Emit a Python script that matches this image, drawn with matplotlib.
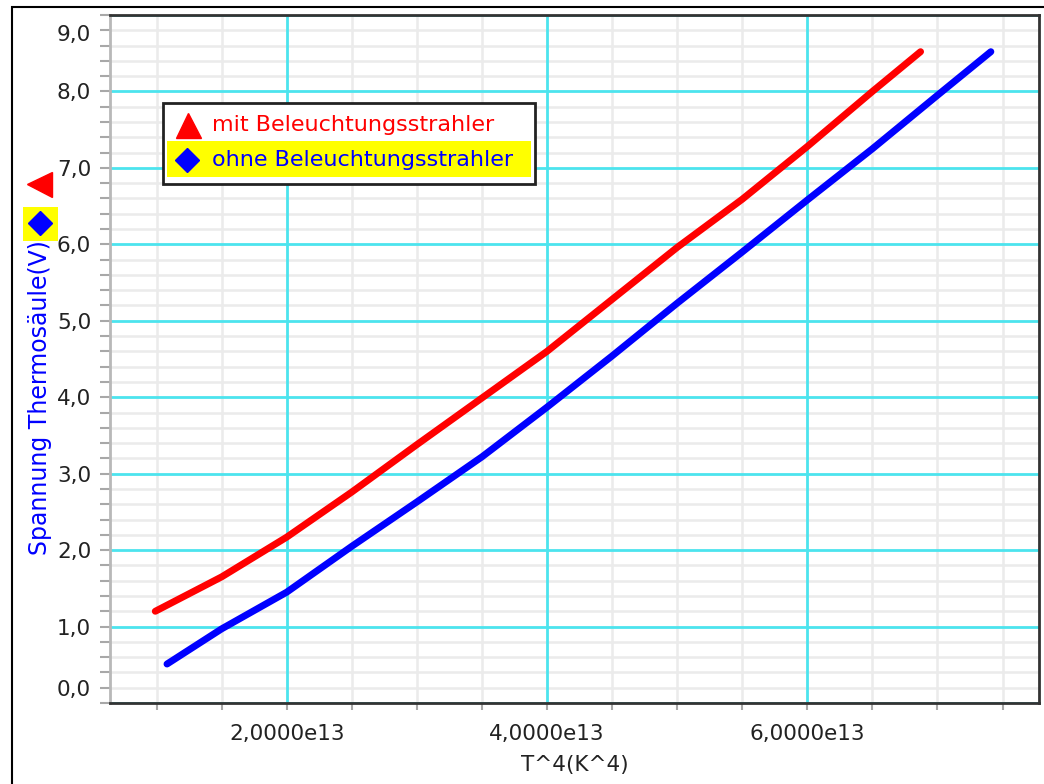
import numpy as np
import matplotlib
matplotlib.use("Agg")
import matplotlib.pyplot as plt
from matplotlib.patches import Rectangle
from matplotlib.lines import Line2D
from matplotlib.ticker import FixedLocator, MultipleLocator, FuncFormatter
from matplotlib.transforms import ScaledTranslation

# ============== DATA ==============
# T^4 in units of 1e13 K^4, thermopile voltage in V
T4_MIT = [0.99, 1.5, 2.0, 2.5, 3.0, 3.5, 4.0, 4.5, 5.0, 5.5, 6.0, 6.5, 6.87]
U_MIT = [1.20, 1.65, 2.17, 2.76, 3.38, 3.99, 4.60, 5.28, 5.96, 6.59, 7.28, 8.00, 8.52]
T4_OHNE = [1.08, 1.5, 2.0, 2.5, 3.0, 3.5, 4.0, 4.5, 5.0, 5.5, 6.0, 6.5, 7.0, 7.41]
U_OHNE = [0.51, 0.97, 1.45, 2.05, 2.63, 3.22, 3.87, 4.54, 5.23, 5.90, 6.58, 7.25, 7.95, 8.52]

LABEL_MIT = "mit Beleuchtungsstrahler"
LABEL_OHNE = "ohne Beleuchtungsstrahler"
X_LABEL = "T^4(K^4)"
Y_LABEL = "Spannung Thermosäule(V)"
# ===========================================================

W, H = 1044, 784
CYAN = "#4ce4ee"
MINOR_GRAY = "#ebebeb"
TXT = "#222222"
FS = 15.5


def px(x, y):
    """Pixel position (from top-left) -> figure fraction."""
    return x / W, 1 - y / H


fig = plt.figure(figsize=(W / 100, H / 100), dpi=100)
ax = fig.add_axes([110 / W, 1 - 703 / H, 929 / W, 688 / H])

ax.plot(np.array(T4_MIT) * 1e13, U_MIT, color="#ff0000", lw=5,
        solid_capstyle="round", solid_joinstyle="round", zorder=3)
ax.plot(np.array(T4_OHNE) * 1e13, U_OHNE, color="#0000ff", lw=5,
        solid_capstyle="round", solid_joinstyle="round", zorder=3)

ax.set_xlim(0.642e13, 7.78e13)
ax.set_ylim(0, 9)

ax.xaxis.set_major_locator(MultipleLocator(2e13))
ax.xaxis.set_minor_locator(MultipleLocator(0.5e13))
ax.yaxis.set_major_locator(FixedLocator(np.arange(0, 10)))
ax.yaxis.set_minor_locator(MultipleLocator(0.2))
ax.xaxis.set_major_formatter(FuncFormatter(
    lambda v, p: f"{v / 1e13:.4f}".replace(".", ",") + "e13"))
ax.yaxis.set_major_formatter(FuncFormatter(
    lambda v, p: f"{v:.1f}".replace(".", ",")))

# grid by hand so that all gray lines stay below all cyan lines
for v in ax.xaxis.get_minorticklocs():
    ax.axvline(v, color=MINOR_GRAY, lw=1.8, zorder=0.1)
for v in ax.yaxis.get_minorticklocs():
    ax.axhline(v, color=MINOR_GRAY, lw=1.8, zorder=0.1)
for v in ax.xaxis.get_majorticklocs():
    ax.axvline(v, color=CYAN, lw=2, zorder=0.2)
for v in ax.yaxis.get_majorticklocs():
    ax.axhline(v, color=CYAN, lw=2, zorder=0.2)

ax.tick_params(which="both", direction="out", color="#a8a8a8", width=1.5,
               labelsize=FS, labelcolor=TXT)
ax.tick_params(axis="y", which="both", length=7, pad=6.5)
ax.tick_params(axis="x", which="both", length=5, pad=10)

for side in ["top", "right", "bottom"]:
    ax.spines[side].set_color("#333333")
    ax.spines[side].set_linewidth(2)
ax.spines["left"].set_color("#b8b8b8")
ax.spines["left"].set_linewidth(2)

ax.set_xlabel(X_LABEL, fontsize=FS, color=TXT, labelpad=8)
ax.set_ylabel(Y_LABEL, fontsize=17, color="#0000ff")
ax.yaxis.set_label_coords(-0.062, 0.444)

# legend box drawn by hand (second row highlighted in yellow)
x0, y0 = px(163, 184)
fig.add_artist(Rectangle((x0, y0), 372 / W, 81 / H, transform=fig.transFigure,
                         facecolor="white", edgecolor="#222222", lw=2, zorder=5))
x0, y0 = px(167, 177)
fig.add_artist(Rectangle((x0, y0), 364 / W, 36 / H, transform=fig.transFigure,
                         facecolor="#ffff00", edgecolor="none", zorder=6))
fig.add_artist(Line2D(*[[c] for c in px(188, 125)], marker="^", ms=18, color="#ff0000",
                      ls="", transform=fig.transFigure, zorder=7))
fig.add_artist(Line2D(*[[c] for c in px(187, 160)], marker="D", ms=12.5, color="#0000ff",
                      ls="", transform=fig.transFigure, zorder=7))
fig.text(*px(212, 125), LABEL_MIT, color="#ff0000", fontsize=16, va="center", zorder=7)
fig.text(*px(212, 160), LABEL_OHNE, color="#0000ff", fontsize=16, va="center", zorder=7)

# series symbols beside the y-axis label
fig.add_artist(Line2D(*[[c] for c in px(39, 184)], marker="<", ms=18, color="#ff0000",
                      ls="", transform=fig.transFigure))
x0, y0 = px(22.5, 241)
fig.add_artist(Rectangle((x0, y0), 35 / W, 34 / H, transform=fig.transFigure,
                         facecolor="#ffff00", edgecolor="none"))
fig.add_artist(Line2D(*[[c] for c in px(39.5, 223)], marker="D", ms=12.5, color="#0000ff",
                      ls="", transform=fig.transFigure, zorder=3))

# outer panel frame (left and top edges visible)
x0, y0 = px(11.5, 7.3)
fig.add_artist(Rectangle((x0, -0.1), 1.2, y0 + 0.1, transform=fig.transFigure,
                         fill=False, edgecolor="black", lw=1.5))

# end labels sit inside the axis range like in the original software
fig.canvas.draw()
for tick in ax.yaxis.get_major_ticks():
    loc = tick.get_loc()
    if loc == 0:
        tick.label1.set_transform(tick.label1.get_transform()
                                  + ScaledTranslation(0, 0.15, fig.dpi_scale_trans))
    elif loc == 9:
        tick.label1.set_transform(tick.label1.get_transform()
                                  + ScaledTranslation(0, -0.18, fig.dpi_scale_trans))

fig.savefig("out.png", dpi=100)
